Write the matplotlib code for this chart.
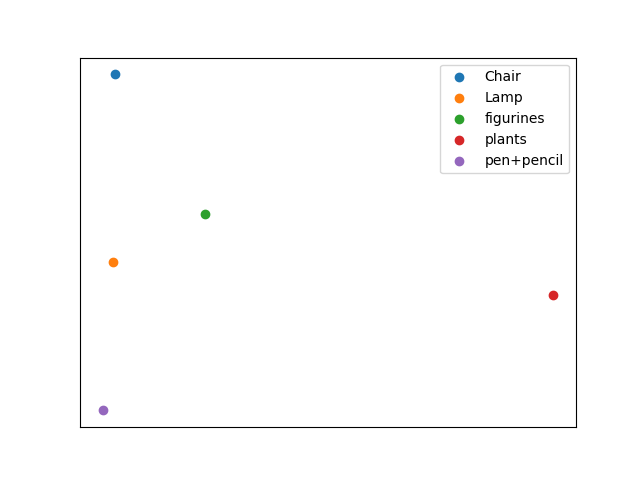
import matplotlib
matplotlib.use("Agg")
import matplotlib.pyplot as plt

labels = ["Chair", "Lamp", "figurines", "plants", "pen+pencil"]
x_vals = [12, 10, 102, 450, 0]
y_vals = [336, 148, 196, 115, 0]

fig, ax = plt.subplots(figsize=(6.4, 4.8), dpi=100)
for lab, xv, yv in zip(labels, x_vals, y_vals):
    ax.scatter([xv], [yv], label=lab)
ax.set_xticks([])
ax.set_yticks([])
ax.legend(loc="upper right")
fig.savefig("out.png", dpi=100)
